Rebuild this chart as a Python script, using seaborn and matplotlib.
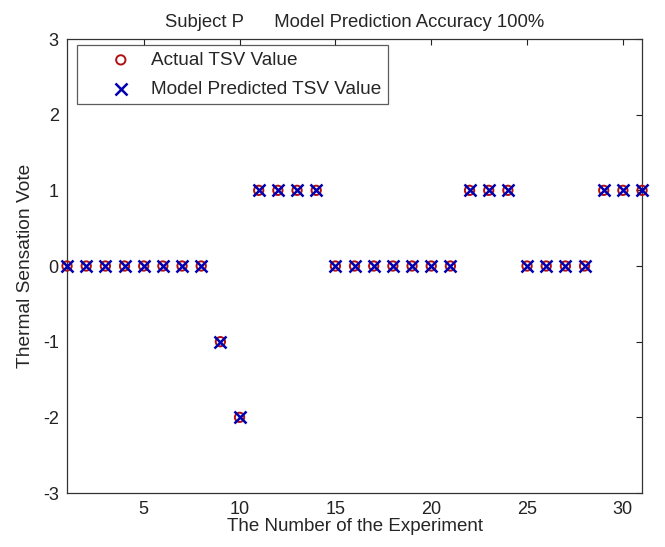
import numpy as np
import pandas as pd
import matplotlib
matplotlib.use('Agg')
import matplotlib.pyplot as plt
import seaborn as sns

sns.set_style('white')
plt.rcParams['font.family'] = ['Liberation Sans', 'DejaVu Sans']
plt.rcParams['axes.unicode_minus'] = False

# ===== Data =====
experiment = list(range(1, 32))
actual_tsv = [0, 0, 0, 0, 0, 0, 0, 0, -1, -2, 1, 1, 1, 1,
              0, 0, 0, 0, 0, 0, 0, 1, 1, 1, 0, 0, 0, 0, 1, 1, 1]
predicted_tsv = [0, 0, 0, 0, 0, 0, 0, 0, -1, -2, 1, 1, 1, 1,
                 0, 0, 0, 0, 0, 0, 0, 1, 1, 1, 0, 0, 0, 0, 1, 1, 1]
x_ticks = [5, 10, 15, 20, 25, 30]
y_ticks = [-3, -2, -1, 0, 1, 2, 3]

df = pd.DataFrame({'exp': experiment, 'actual': actual_tsv, 'pred': predicted_tsv})

# ===== Plot =====
fig = plt.figure(figsize=(6.65, 5.47), dpi=100)
ax = fig.add_axes([0.1008, 0.0987, 0.8647, 0.830])

sns.scatterplot(data=df, x='exp', y='actual', ax=ax, marker='o', s=45,
                facecolors='none', edgecolor='#b01010', linewidth=1.4,
                label='Actual TSV Value', zorder=3, clip_on=False)
sns.scatterplot(data=df, x='exp', y='pred', ax=ax, marker='x', s=75,
                color='#0000b0', linewidth=1.8,
                label='Model Predicted TSV Value', zorder=4, clip_on=False)

ax.set_xlim(1, 31)
ax.set_ylim(-3, 3)
ax.set_xticks(x_ticks)
ax.set_yticks(y_ticks)
ax.tick_params(direction='in', top=True, right=True, length=4, width=0.8,
               labelsize=13, colors='#222222', pad=6)
for sp in ax.spines.values():
    sp.set_color('#333333')
    sp.set_linewidth(0.9)

ax.set_xlabel('The Number of the Experiment', fontsize=13.5, labelpad=0)
ax.set_ylabel('Thermal Sensation Vote', fontsize=13.8, labelpad=6)
ax.set_title('Subject P      Model Prediction Accuracy 100%', fontsize=13.3, pad=9)

leg = ax.legend(loc='upper left', bbox_to_anchor=(0.0174, 0.987), fontsize=13.7,
                frameon=True, fancybox=False, borderpad=0.35, handletextpad=-0.35,
                borderaxespad=0.0, labelspacing=0.6, handlelength=3.9)
leg.get_frame().set_edgecolor('#333333')
leg.get_frame().set_linewidth(0.9)

fig.savefig('out.png', dpi=100)
